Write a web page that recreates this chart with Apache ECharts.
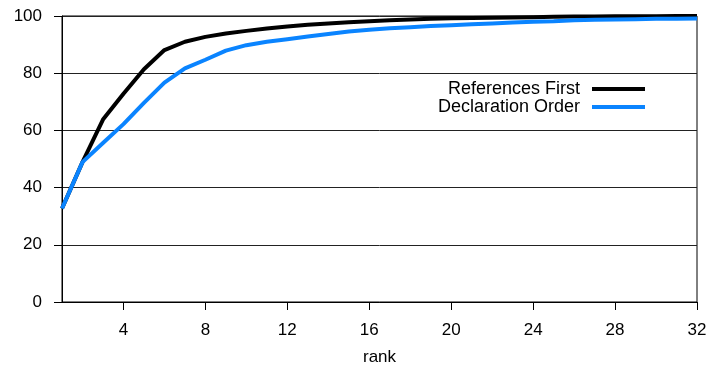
<!DOCTYPE html>
<html>
<head>
<meta charset="utf-8">
<script src="https://cdn.jsdelivr.net/npm/echarts@6/dist/echarts.min.js"></script>
<style>
html,body{margin:0;padding:0;background:#fff;}
#chart{width:712px;height:371px;}
</style>
</head>
<body>
<div id="chart"></div>
<script>
const ranks = [1,2,3,4,5,6,7,8,9,10,11,12,13,14,15,16,17,18,19,20,21,22,23,24,25,26,27,28,29,30,31,32];
const referencesFirst = [32.7,48.9,63.8,72.8,81.4,88.1,91.0,92.7,93.9,94.8,95.6,96.3,96.9,97.4,97.8,98.2,98.5,98.8,99.0,99.2,99.3,99.4,99.5,99.6,99.7,99.8,99.8,99.9,99.9,99.9,100,100];
const declarationOrder = [32.7,48.9,55.6,62.2,69.6,76.7,81.7,84.7,87.9,89.8,91.0,91.9,92.8,93.7,94.6,95.2,95.7,96.1,96.5,96.8,97.1,97.4,97.7,98.0,98.2,98.5,98.7,98.8,98.9,99.0,99.0,99.1];
const xTicks = [4,8,12,16,20,24,28,32];
const seriesNames = ['References First','Declaration Order'];
const xName = 'rank';

const font = '"Liberation Sans", Arial, Helvetica, sans-serif';
const chart = echarts.init(document.getElementById('chart'), null, {renderer:'canvas'});
const pairs = arr => ranks.map((r,i)=>[r, arr[i]]);
const lineIcon = 'path://M0,0 L53,0 L53,4 L0,4 Z';
chart.setOption({
  animation:false,
  backgroundColor:'#fff',
  grid:{left:62,right:15,top:16,bottom:68,show:true,borderColor:'#000',borderWidth:1,backgroundColor:'transparent'},
  legend:{
    orient:'vertical', align:'right', right:67, top:80, padding:0,
    itemWidth:53, itemHeight:18, itemGap:0, icon:lineIcon,
    textStyle:{fontSize:18, fontFamily:font, color:'#000', padding:[0,7,0,0]},
    data:seriesNames
  },
  xAxis:{
    type:'value', min:1, max:32,
    name:xName, nameLocation:'middle', nameGap:47,
    nameTextStyle:{fontSize:17, fontFamily:font, color:'#000'},
    axisLine:{show:true,lineStyle:{color:'#000',width:1}},
    axisTick:{show:true,length:8,lineStyle:{color:'#000'},customValues:xTicks},
    axisLabel:{fontSize:17,fontFamily:font,color:'#000',margin:20,customValues:xTicks},
    splitLine:{show:false}
  },
  yAxis:{
    type:'value', min:0, max:100, interval:20,
    axisLine:{show:true,lineStyle:{color:'#000',width:1}},
    axisTick:{show:true,length:8,lineStyle:{color:'#000'}},
    axisLabel:{fontSize:17,fontFamily:font,color:'#000',margin:20},
    splitLine:{show:true,lineStyle:{color:'#222',width:1}}
  },
  series:[
    {name:seriesNames[0], type:'line', data:pairs(referencesFirst), symbol:'none', showSymbol:false,
     lineStyle:{color:'#000',width:4}, itemStyle:{color:'#000'}},
    {name:seriesNames[1], type:'line', data:pairs(declarationOrder), symbol:'none', showSymbol:false,
     lineStyle:{color:'#0a84ff',width:4}, itemStyle:{color:'#0a84ff'}}
  ]
});
</script>
</body>
</html>
